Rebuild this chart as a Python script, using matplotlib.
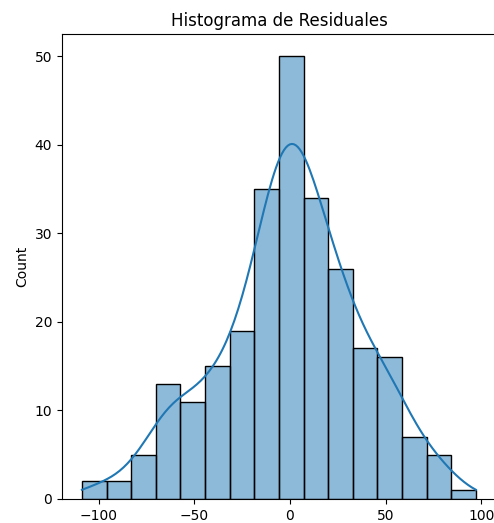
import matplotlib
matplotlib.use("Agg")
import matplotlib.pyplot as plt
import seaborn as sns
import numpy as np
import pandas as pd

# Histogram
bin_start = -108.7
bin_end = 97.2
n_bins = 16
counts = [2, 2, 5, 13, 11, 15, 19, 35, 50, 34, 26, 17, 16, 7, 5, 1]
x_ticks = [-100, -50, 0, 50, 100]

edges = np.linspace(bin_start, bin_end, n_bins + 1)
centers = (edges[:-1] + edges[1:]) / 2
df = pd.DataFrame({"resid": centers, "w": counts})

fig = plt.figure(figsize=(4.94, 5.23), dpi=100)
ax = fig.add_axes([0.1255, 0.0459, 0.879, 0.889])

sns.histplot(data=df, x="resid", weights="w", bins=n_bins,
             binrange=(bin_start, bin_end), kde=True,
             kde_kws={"bw_adjust": 0.48, "cut": 0.38}, ax=ax)
ax.set_title("Histograma de Residuales")
ax.set_ylabel("Count")
ax.set_xlabel("")
ax.set_xticks(x_ticks)
ax.set_xlim(-119.1, 107.8)

fig.savefig("out.png", dpi=100)
